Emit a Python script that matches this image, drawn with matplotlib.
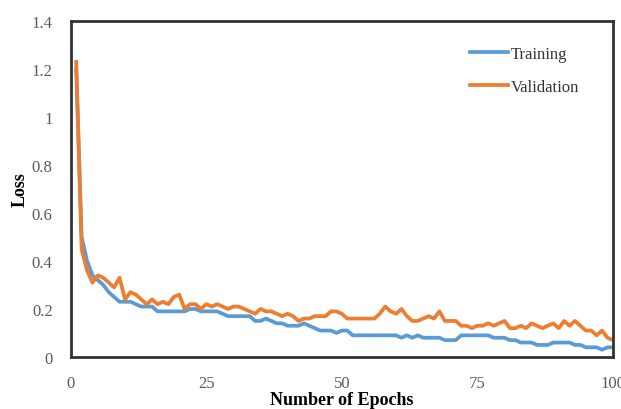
import matplotlib
matplotlib.use("Agg")
import matplotlib.pyplot as plt
import numpy as np

epochs = list(range(1, 101))
training = [1.20, 0.50, 0.40, 0.34, 0.32, 0.30, 0.27, 0.25, 0.23, 0.23,
            0.23, 0.22, 0.21, 0.21, 0.21, 0.19, 0.19, 0.19, 0.19, 0.19,
            0.19, 0.20, 0.20, 0.19, 0.19, 0.19, 0.19, 0.18, 0.17, 0.17,
            0.17, 0.17, 0.17, 0.15, 0.15, 0.16, 0.15, 0.14, 0.14, 0.13,
            0.13, 0.13, 0.14, 0.13, 0.12, 0.11, 0.11, 0.11, 0.10, 0.11,
            0.11, 0.09, 0.09, 0.09, 0.09, 0.09, 0.09, 0.09, 0.09, 0.09,
            0.08, 0.09, 0.08, 0.09, 0.08, 0.08, 0.08, 0.08, 0.07, 0.07,
            0.07, 0.09, 0.09, 0.09, 0.09, 0.09, 0.09, 0.08, 0.08, 0.08,
            0.07, 0.07, 0.06, 0.06, 0.06, 0.05, 0.05, 0.05, 0.06, 0.06,
            0.06, 0.06, 0.05, 0.05, 0.04, 0.04, 0.04, 0.03, 0.04, 0.04]
validation = [1.23, 0.45, 0.36, 0.31, 0.34, 0.33, 0.31, 0.29, 0.33, 0.24,
              0.27, 0.26, 0.24, 0.22, 0.24, 0.22, 0.23, 0.22, 0.25, 0.26,
              0.20, 0.22, 0.22, 0.20, 0.22, 0.21, 0.22, 0.21, 0.20, 0.21,
              0.21, 0.20, 0.19, 0.18, 0.20, 0.19, 0.19, 0.18, 0.17, 0.18,
              0.17, 0.15, 0.16, 0.16, 0.17, 0.17, 0.17, 0.19, 0.19, 0.18,
              0.16, 0.16, 0.16, 0.16, 0.16, 0.16, 0.18, 0.21, 0.19, 0.18,
              0.20, 0.17, 0.15, 0.15, 0.16, 0.17, 0.16, 0.19, 0.15, 0.15,
              0.15, 0.13, 0.13, 0.12, 0.13, 0.13, 0.14, 0.13, 0.14, 0.15,
              0.12, 0.12, 0.13, 0.12, 0.14, 0.13, 0.12, 0.13, 0.14, 0.12,
              0.15, 0.13, 0.15, 0.13, 0.11, 0.11, 0.09, 0.11, 0.08, 0.07]
xticks = [0, 25, 50, 75, 100]
xtick_labels = ["0", "25", "50", "75", "100"]
yticks = [0, 0.2, 0.4, 0.6, 0.8, 1.0, 1.2, 1.4]
ytick_labels = ["0", "0.2", "0.4", "0.6", "0.8", "1", "1.2", "1.4"]

plt.rcParams['font.family'] = ['Liberation Serif', 'DejaVu Serif']

fig = plt.figure(figsize=(6.21, 4.10), dpi=100)
ax = fig.add_axes([0.114, 0.127, 0.873, 0.819])

ax.plot(epochs, training, color='#5B9BD5', lw=2.7, label='Training', solid_joinstyle='round')
ax.plot(epochs, validation, color='#ED7D31', lw=2.7, label='Validation', solid_joinstyle='round')

ax.set_xlim(0, 100)
ax.set_ylim(0, 1.4)
ax.set_xticks(xticks)
ax.set_xticklabels(xtick_labels)
ax.set_yticks(yticks)
ax.set_yticklabels(ytick_labels)
ax.tick_params(length=0, labelsize=12, labelcolor='#595959')
ax.tick_params(axis='x', pad=13)
ax.tick_params(axis='y', pad=13)

for s in ax.spines.values():
    s.set_linewidth(2.0)
    s.set_color('#333333')

ax.set_xlabel('Number of Epochs', fontsize=13, fontweight='bold', labelpad=0)
ax.set_ylabel('Loss', fontsize=13, fontweight='bold', labelpad=2)

leg = ax.legend(loc='upper right', bbox_to_anchor=(0.965, 0.97), frameon=False,
                fontsize=12, handlelength=2.3, handletextpad=0.15, labelspacing=1.0)
for t in leg.get_texts():
    t.set_color('#333333')

fig.savefig('out.png', dpi=100)
